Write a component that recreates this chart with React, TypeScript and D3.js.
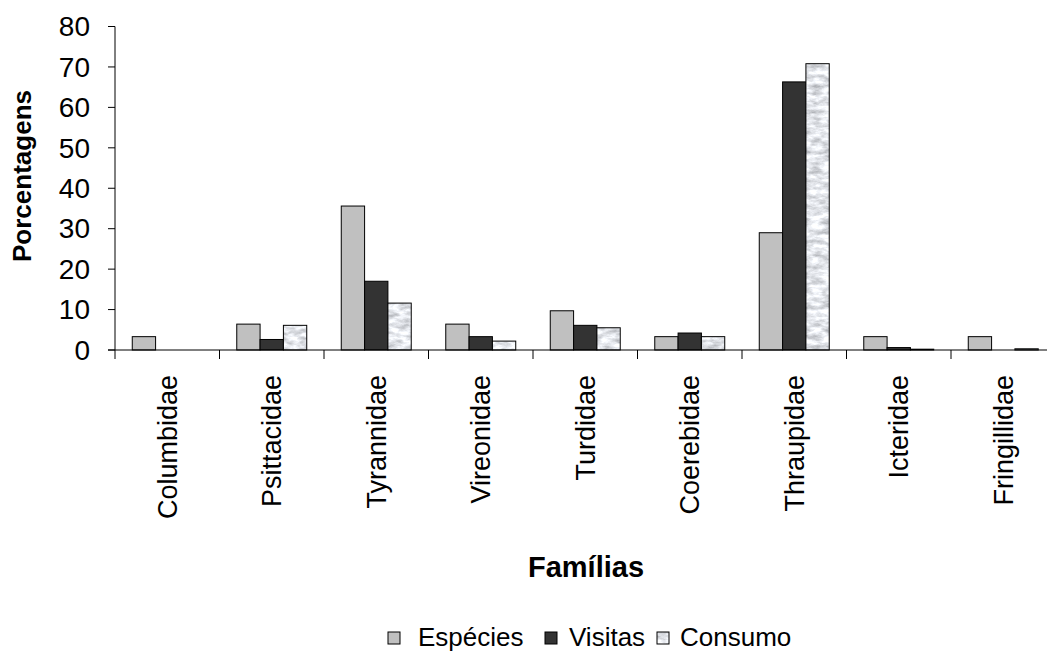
import React from 'react';
import * as d3 from 'd3';

const categories = ['Columbidae', 'Psittacidae', 'Tyrannidae', 'Vireonidae', 'Turdidae', 'Coerebidae', 'Thraupidae', 'Icteridae', 'Fringillidae'];
const seriesNames = ['Espécies', 'Visitas', 'Consumo'];
const especies = [3.3, 6.4, 35.6, 6.4, 9.7, 3.3, 29.0, 3.3, 3.3];
const visitas = [0, 2.6, 17.0, 3.3, 6.1, 4.2, 66.3, 0.6, 0];
const consumo = [0, 6.1, 11.6, 2.2, 5.5, 3.3, 70.8, 0.2, 0.3];
const yTicks = [0, 10, 20, 30, 40, 50, 60, 70, 80];

const W = 1047;
const H = 653;
const margin = { left: 115, top: 26.5, bottom: 350 };
const step = 104.5;
const font = 'Liberation Sans, Arial, sans-serif';

const fills: Record<string, string> = {
  'Espécies': '#c0c0c0',
  'Visitas': '#333333',
  'Consumo': 'url(#marble)',
};

// legend layout: swatch x, text x
const legendPos = [
  { sx: 388, tx: 418 },
  { sx: 545, tx: 569 },
  { sx: 657, tx: 680 },
];

export default function App() {
  const values: Record<string, number[]> = { 'Espécies': especies, 'Visitas': visitas, 'Consumo': consumo };

  const x0 = d3.scaleBand<string>()
    .domain(categories)
    .range([margin.left, margin.left + step * categories.length])
    .padding(0);

  const x1 = d3.scaleBand<string>()
    .domain(seriesNames)
    .range([0, x0.bandwidth()])
    .paddingInner(0)
    .paddingOuter(0.74);

  const y = d3.scaleLinear().domain([0, 80]).range([margin.bottom, margin.top]);

  return (
    <svg width={W} height={H} style={{ position: 'absolute', left: 0, top: 0, background: '#fff' }} fontFamily={font}>
      <defs>
        <filter id="marbleFx" x="0" y="0" width="1" height="1" colorInterpolationFilters="sRGB">
          <feTurbulence type="fractalNoise" baseFrequency="0.09 0.2" numOctaves={4} seed={7} result="noise" />
          <feColorMatrix in="noise" type="matrix"
            values="0.55 0 0 0 0.62  0.55 0 0 0 0.63  0.55 0 0 0 0.65  0 0 0 0 1" result="gray" />
          <feComposite in="gray" in2="SourceGraphic" operator="in" />
        </filter>
        <pattern id="marble" patternUnits="userSpaceOnUse" width={W} height={H}>
          <rect width={W} height={H} fill="#fff" filter="url(#marbleFx)" />
        </pattern>
      </defs>

      {/* bars */}
      {categories.map((c, i) => (
        <g key={c}>
          {seriesNames.map(s => {
            const v = values[s][i];
            if (!v) return null;
            const bx = x0(c)! + x1(s)!;
            return (
              <rect key={s} x={bx} y={y(v)} width={x1.bandwidth()} height={y(0) - y(v)}
                fill={fills[s]} stroke="#000" strokeWidth={1} />
            );
          })}
        </g>
      ))}

      {/* y axis */}
      <line x1={margin.left} x2={margin.left} y1={y(80)} y2={y(0)} stroke="#000" strokeWidth={1} />
      {yTicks.map(t => (
        <g key={t}>
          <line x1={margin.left - 7} x2={margin.left} y1={y(t)} y2={y(t)} stroke="#000" strokeWidth={1} />
          <text x={90} y={y(t)} dy="0.35em" textAnchor="end" fontSize={28} fill="#000">{t}</text>
        </g>
      ))}

      {/* x axis */}
      <line x1={margin.left - 7} x2={W} y1={y(0)} y2={y(0)} stroke="#000" strokeWidth={1} />
      {categories.map(c => (
        <g key={c}>
          <line x1={x0(c)!} x2={x0(c)!} y1={y(0)} y2={y(0) + 9} stroke="#000" strokeWidth={1} />
          <text transform={`translate(${x0(c)! + x0.bandwidth() / 2},375) rotate(-90)`} dy="0.35em"
            textAnchor="end" fontSize={27} fill="#000">{c}</text>
        </g>
      ))}

      {/* axis titles */}
      <text transform="translate(31,176) rotate(-90)" textAnchor="middle" fontSize={26} fontWeight="bold" fill="#000">Porcentagens</text>
      <text x={586} y={577} textAnchor="middle" fontSize={29} fontWeight="bold" fill="#000">Famílias</text>

      {/* legend */}
      {seriesNames.map((s, i) => (
        <g key={s}>
          <rect x={legendPos[i].sx} y={632} width={12} height={12} fill={fills[s]} stroke="#000" strokeWidth={1} />
          <text x={legendPos[i].tx} y={646} fontSize={26} fill="#000">{s}</text>
        </g>
      ))}
    </svg>
  );
}
